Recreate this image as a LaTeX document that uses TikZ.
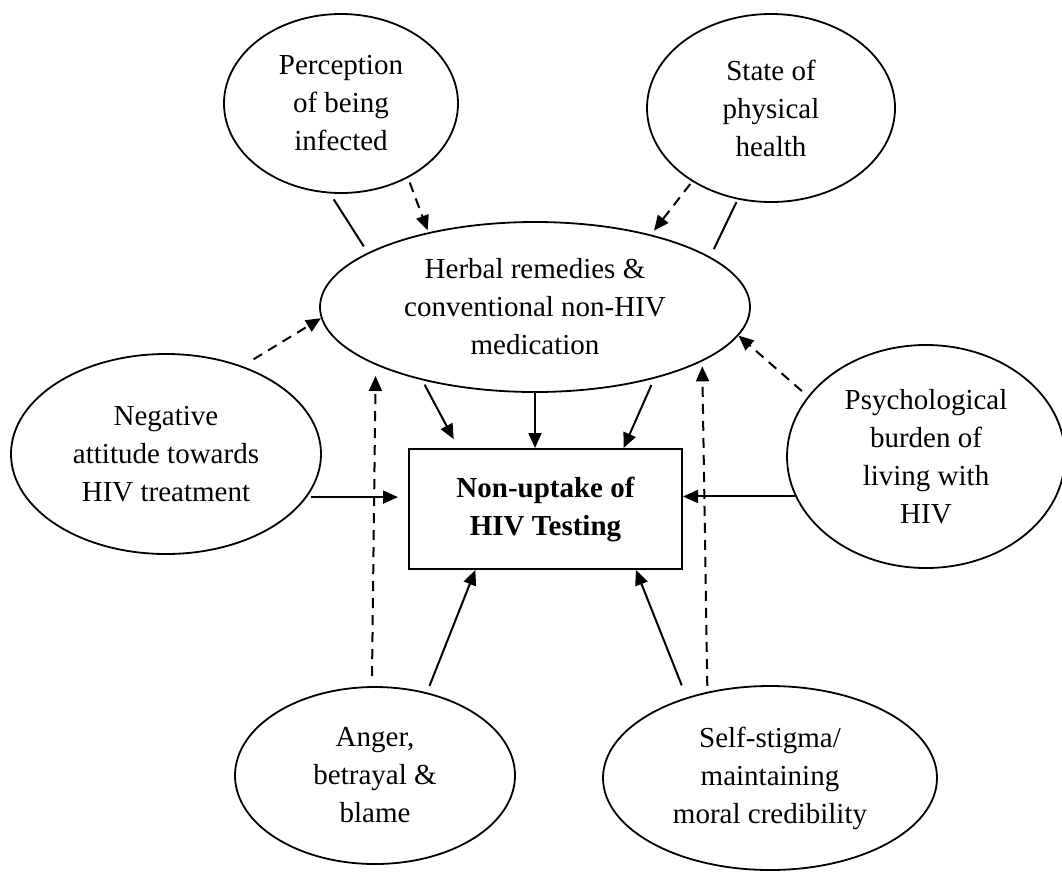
\documentclass[tikz,border=0pt]{standalone}
\usepackage{fontspec}
\setmainfont{Liberation Serif}
\usetikzlibrary{arrows.meta,shapes.geometric}
\begin{document}
\begin{tikzpicture}[x=1pt,y=-1pt,
  factor/.style={ellipse, draw, line width=1.8pt, inner sep=0pt, align=center,
    font=\fontsize{29}{38}\selectfont},
  outcome/.style={rectangle, draw, line width=2pt, inner sep=0pt,
    minimum width=273pt, minimum height=120pt, align=center,
    font=\fontsize{29}{38}\selectfont\bfseries},
  link/.style={line width=2pt},
  effect/.style={link, -{Triangle[length=15pt,width=13pt]}},
  pathway/.style={effect, dash pattern=on 10pt off 7pt},
]
\useasboundingbox (0,0) rectangle (1062,871);

% factors
\node[factor, minimum width=234pt, minimum height=179pt] (perc) at (341,103.5)
  {Perception\\of being\\infected};
\node[factor, minimum width=248pt, minimum height=188pt] (state) at (771,108)
  {State of\\physical\\health};
\node[factor, minimum width=430pt, minimum height=170pt] (herb) at (535,307)
  {Herbal remedies \&\\conventional non-HIV\\medication};
\node[factor, minimum width=310pt, minimum height=200pt] (neg) at (166,454)
  {Negative\\attitude towards\\HIV treatment};
\node[factor, minimum width=278pt, minimum height=223pt] (psych) at (926,456.5)
  {Psychological\\burden of\\living with\\HIV};
\node[factor, minimum width=280pt, minimum height=177pt] (anger) at (375,775.5)
  {Anger,\\betrayal \&\\blame};
\node[factor, minimum width=334pt, minimum height=184pt] (self) at (770,778)
  {Self-stigma/\\maintaining\\moral credibility};

% outcome
\node[outcome] (test) at (545.5,509) {Non-uptake of\\HIV Testing};

% links to the herbal remedies node
\draw[link, shorten <=7pt, shorten >=7.5pt] (perc.263.6) -- (herb.162.8);
\draw[pathway, shorten <=5pt, shorten >=2pt] (perc.-48.9) -- (herb.145.8);
\draw[pathway, shorten <=3pt, shorten >=5pt] (state.223) -- (herb.32.3);
\draw[link, shorten <=3pt, shorten >=8.5pt] (state.250.2) -- (herb.16.8);
\draw[pathway, shorten <=13pt] (neg.49.5) -- (herb.183.5);
\draw[pathway, shorten <=8pt] (psych.153.1) -- (herb.-8.2);
\draw[pathway, shorten <=10pt, shorten >=11pt] (anger.92.6) -- (herb.200.9);
\draw[pathway, shorten <=6pt, shorten >=5pt] (self.126.4) -- (herb.-18.5);

% effects on the outcome
\draw[effect, shorten <=5pt, shorten >=10pt] (herb.213.8) -- (test.145.1);
\draw[effect] (herb.south) -- (herb.south |- test.north);
\draw[effect, shorten <=7pt] (herb.-31.7) -- (test.38.9);
\draw[effect, shorten <=4pt, shorten >=10pt] (neg.-17.5) -- (neg.-17.5 -| test.west);
\draw[effect] (psych.197.8) -- (psych.197.8 -| test.east);
\draw[effect, shorten <=7pt] (anger.58.5) -- (test.221.1);
\draw[effect, shorten <=13pt] (self.136.75) -- (test.-34.4);
\end{tikzpicture}
\end{document}
